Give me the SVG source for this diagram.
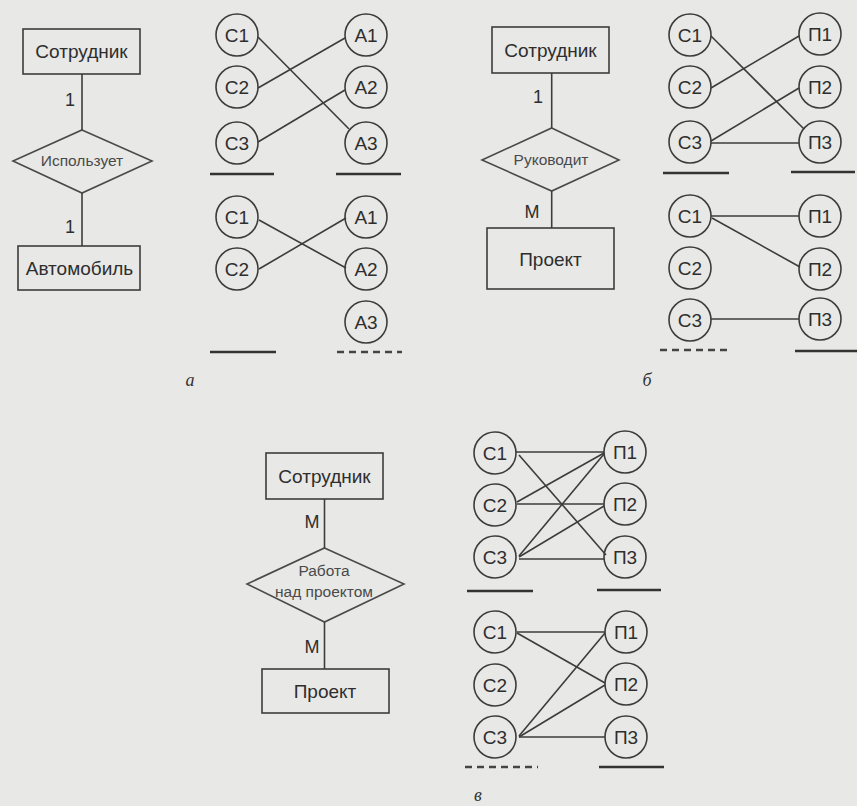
<svg xmlns="http://www.w3.org/2000/svg" width="857" height="806" viewBox="0 0 857 806">
<style>
.bg{fill:#e8e8e6}
.box{fill:none;stroke:#3c3c3c;stroke-width:1.6}
.dia{fill:none;stroke:#4a4a4a;stroke-width:1.6}
.c{fill:none;stroke:#3c3c3c;stroke-width:1.6}
.t{font-family:"Liberation Sans",Arial,sans-serif;fill:#2e2e2e;text-anchor:middle}
.ent{font-size:19px}
.rel{font-size:15.5px;fill:#4a4a4a}
.ct{font-size:19px}
.lab{font-size:18px}
.cap{font-family:"Liberation Serif",serif;font-style:italic;font-size:18px;fill:#333;text-anchor:middle}
.ln{stroke:#3c3c3c;stroke-width:1.6;fill:none}
.ul{stroke:#333;stroke-width:2.5;fill:none}
.ud{stroke:#444;stroke-width:2.5;fill:none;stroke-dasharray:7 5}
</style>
<rect class="bg" x="0" y="0" width="857" height="806"/>

<!-- Panel a ER -->
<g id="a-sotrudnik"><rect class="box" x="23" y="29" width="117" height="45"/><text class="t ent" x="81.5" y="58">Сотрудник</text></g>
<g id="a-ispolzuet"><polygon class="dia" points="82,130 152,161 82,193 13,161"/><text class="t rel" x="82" y="166">Использует</text></g>
<g id="a-avtomobil"><rect class="box" x="18" y="246" width="122" height="44"/><text class="t ent" x="79.5" y="275">Автомобиль</text></g>

<!-- Panel b ER -->
<g id="b-sotrudnik"><rect class="box" x="492" y="27" width="117" height="46"/><text class="t ent" x="550.5" y="57">Сотрудник</text></g>
<g id="b-rukovodit"><polygon class="dia" points="551.7,128 619,160 551.7,191 482,160"/><text class="t rel" x="551" y="165">Руководит</text></g>
<g id="b-proekt"><rect class="box" x="487" y="228" width="127" height="61"/><text class="t ent" x="550.5" y="266">Проект</text></g>

<!-- Panel v ER -->
<g id="v-sotrudnik"><rect class="box" x="266" y="453" width="117" height="46"/><text class="t ent" x="324.5" y="483">Сотрудник</text></g>
<g id="v-rabota"><polygon class="dia" points="324.5,548 404,584 324.5,622 247,584"/><text class="t rel" x="324" y="576">Работа</text><text class="t rel" x="324" y="597">над проектом</text></g>
<g id="v-proekt"><rect class="box" x="262" y="669" width="127" height="44"/><text class="t ent" x="325" y="698">Проект</text></g>

<!-- circles panel a top -->
<g id="a1-C1"><circle class="c" cx="237" cy="35" r="21"/><text class="t ct" x="237" y="42">С1</text></g>
<g id="a1-C2"><circle class="c" cx="237" cy="87" r="21"/><text class="t ct" x="237" y="94">С2</text></g>
<g id="a1-C3"><circle class="c" cx="237" cy="143" r="21"/><text class="t ct" x="237" y="150">С3</text></g>
<g id="a1-A1"><circle class="c" cx="366" cy="35" r="21"/><text class="t ct" x="366" y="42">А1</text></g>
<g id="a1-A2"><circle class="c" cx="366" cy="87" r="21"/><text class="t ct" x="366" y="94">А2</text></g>
<g id="a1-A3"><circle class="c" cx="366" cy="143" r="21"/><text class="t ct" x="366" y="150">А3</text></g>

<!-- circles panel a bottom -->
<g id="a2-C1"><circle class="c" cx="237" cy="217" r="21"/><text class="t ct" x="237" y="224">С1</text></g>
<g id="a2-C2"><circle class="c" cx="237" cy="269" r="21"/><text class="t ct" x="237" y="276">С2</text></g>
<g id="a2-A1"><circle class="c" cx="366" cy="217" r="21"/><text class="t ct" x="366" y="224">А1</text></g>
<g id="a2-A2"><circle class="c" cx="366" cy="269" r="21"/><text class="t ct" x="366" y="276">А2</text></g>
<g id="a2-A3"><circle class="c" cx="366" cy="322" r="21"/><text class="t ct" x="366" y="329">А3</text></g>

<!-- circles panel b top -->
<g id="b1-C1"><circle class="c" cx="690" cy="35" r="21"/><text class="t ct" x="690" y="42">С1</text></g>
<g id="b1-C2"><circle class="c" cx="690" cy="87" r="21"/><text class="t ct" x="690" y="94">С2</text></g>
<g id="b1-C3"><circle class="c" cx="690" cy="142" r="21"/><text class="t ct" x="690" y="149">С3</text></g>
<g id="b1-P1"><circle class="c" cx="820" cy="34" r="21"/><text class="t ct" x="820" y="41">П1</text></g>
<g id="b1-P2"><circle class="c" cx="820" cy="87" r="21"/><text class="t ct" x="820" y="94">П2</text></g>
<g id="b1-P3"><circle class="c" cx="820" cy="142" r="21"/><text class="t ct" x="820" y="149">П3</text></g>

<!-- circles panel b bottom -->
<g id="b2-C1"><circle class="c" cx="690" cy="216" r="21"/><text class="t ct" x="690" y="223">С1</text></g>
<g id="b2-C2"><circle class="c" cx="690" cy="268" r="21"/><text class="t ct" x="690" y="275">С2</text></g>
<g id="b2-C3"><circle class="c" cx="690" cy="320" r="21"/><text class="t ct" x="690" y="327">С3</text></g>
<g id="b2-P1"><circle class="c" cx="820" cy="216" r="21"/><text class="t ct" x="820" y="223">П1</text></g>
<g id="b2-P2"><circle class="c" cx="820" cy="269" r="21"/><text class="t ct" x="820" y="276">П2</text></g>
<g id="b2-P3"><circle class="c" cx="820" cy="319" r="21"/><text class="t ct" x="820" y="326">П3</text></g>

<!-- circles panel v top -->
<g id="v1-C1"><circle class="c" cx="495" cy="453" r="21"/><text class="t ct" x="495" y="460">С1</text></g>
<g id="v1-C2"><circle class="c" cx="495" cy="505" r="21"/><text class="t ct" x="495" y="512">С2</text></g>
<g id="v1-C3"><circle class="c" cx="495" cy="557" r="21"/><text class="t ct" x="495" y="564">С3</text></g>
<g id="v1-P1"><circle class="c" cx="625" cy="452" r="21"/><text class="t ct" x="625" y="459">П1</text></g>
<g id="v1-P2"><circle class="c" cx="625" cy="504" r="21"/><text class="t ct" x="625" y="511">П2</text></g>
<g id="v1-P3"><circle class="c" cx="625" cy="557" r="21"/><text class="t ct" x="625" y="564">П3</text></g>

<!-- circles panel v bottom -->
<g id="v2-C1"><circle class="c" cx="495" cy="632" r="21"/><text class="t ct" x="495" y="639">С1</text></g>
<g id="v2-C2"><circle class="c" cx="495" cy="685" r="21"/><text class="t ct" x="495" y="692">С2</text></g>
<g id="v2-C3"><circle class="c" cx="495" cy="737" r="21"/><text class="t ct" x="495" y="744">С3</text></g>
<g id="v2-P1"><circle class="c" cx="626" cy="632" r="21"/><text class="t ct" x="626" y="639">П1</text></g>
<g id="v2-P2"><circle class="c" cx="626" cy="684" r="21"/><text class="t ct" x="626" y="691">П2</text></g>
<g id="v2-P3"><circle class="c" cx="626" cy="737" r="21"/><text class="t ct" x="626" y="744">П3</text></g>

<g id="connectors">
  <!-- ER lines -->
  <line class="ln" x1="82" y1="74" x2="82" y2="130"/>
  <line class="ln" x1="82" y1="193" x2="82" y2="246"/>
  <line class="ln" x1="551.7" y1="73" x2="551.7" y2="128"/>
  <line class="ln" x1="551.7" y1="191" x2="551.7" y2="228"/>
  <line class="ln" x1="324.5" y1="499" x2="324.5" y2="548"/>
  <line class="ln" x1="324.5" y1="622" x2="324.5" y2="669"/>
  <!-- a top -->
  <line class="ln" x1="258" y1="37" x2="349" y2="129"/>
  <line class="ln" x1="258" y1="88" x2="345" y2="38"/>
  <line class="ln" x1="258" y1="142" x2="345" y2="90"/>
  <!-- a bottom -->
  <line class="ln" x1="259" y1="220" x2="346" y2="268"/>
  <line class="ln" x1="259" y1="269" x2="346" y2="218"/>
  <!-- b top -->
  <line class="ln" x1="711" y1="36" x2="804" y2="129"/>
  <line class="ln" x1="711" y1="88" x2="799" y2="36"/>
  <line class="ln" x1="711" y1="141" x2="799" y2="88"/>
  <line class="ln" x1="711" y1="143" x2="799" y2="143"/>
  <!-- b bottom -->
  <line class="ln" x1="711" y1="216" x2="799" y2="216"/>
  <line class="ln" x1="712" y1="218" x2="800" y2="267"/>
  <line class="ln" x1="711" y1="319" x2="799" y2="319"/>
  <!-- v top -->
  <line class="ln" x1="516" y1="452" x2="604" y2="452"/>
  <line class="ln" x1="519" y1="455" x2="606" y2="555"/>
  <line class="ln" x1="517" y1="502" x2="604" y2="453"/>
  <line class="ln" x1="517" y1="504" x2="604" y2="504"/>
  <line class="ln" x1="519" y1="556" x2="604" y2="454"/>
  <line class="ln" x1="519" y1="557" x2="604" y2="506"/>
  <line class="ln" x1="519" y1="559" x2="604" y2="559"/>
  <!-- v bottom -->
  <line class="ln" x1="517" y1="632" x2="605" y2="632"/>
  <line class="ln" x1="517" y1="633" x2="605" y2="683"/>
  <line class="ln" x1="519" y1="736" x2="605" y2="633"/>
  <line class="ln" x1="519" y1="737" x2="605" y2="685"/>
  <line class="ln" x1="519" y1="737" x2="605" y2="737"/>
</g>

<g id="cardinalities">
  <text class="t lab" x="70" y="106">1</text>
  <text class="t lab" x="70" y="233">1</text>
  <text class="t lab" x="538" y="103">1</text>
  <text class="t lab" x="532" y="218">М</text>
  <text class="t lab" x="312" y="528">М</text>
  <text class="t lab" x="312" y="653">М</text>
</g>

<g id="underlines">
  <line class="ul" x1="210" y1="174" x2="274" y2="174"/>
  <line class="ul" x1="336" y1="174" x2="401" y2="174"/>
  <line class="ul" x1="210" y1="352" x2="276" y2="352"/>
  <line class="ud" x1="337" y1="352" x2="402" y2="352"/>
  <line class="ul" x1="663" y1="173" x2="729" y2="173"/>
  <line class="ul" x1="791" y1="172" x2="855" y2="172"/>
  <line class="ud" x1="660" y1="350" x2="730" y2="350"/>
  <line class="ul" x1="795" y1="351" x2="857" y2="351"/>
  <line class="ul" x1="467" y1="591" x2="533" y2="591"/>
  <line class="ul" x1="597" y1="590" x2="661" y2="590"/>
  <line class="ud" x1="465" y1="767" x2="538" y2="767"/>
  <line class="ul" x1="599" y1="767" x2="664" y2="767"/>
</g>

<g id="captions">
  <text class="cap" x="190" y="386">а</text>
  <text class="cap" x="647" y="386">б</text>
  <text class="cap" x="478" y="801">в</text>
</g>
</svg>
